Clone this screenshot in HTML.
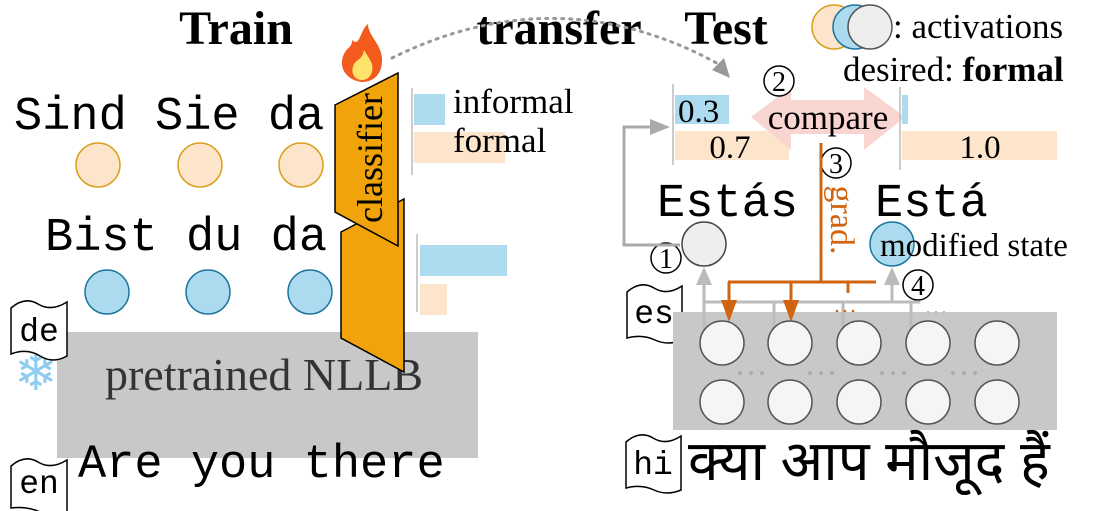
<!DOCTYPE html>
<html><head><meta charset="utf-8"><style>
body{margin:0;background:#fff}
svg{display:block}
.mono{font-family:"Liberation Mono",monospace}
.serif{font-family:"Liberation Serif",serif}
</style></head><body>
<svg width="1105" height="511" viewBox="0 0 1105 511" xmlns="http://www.w3.org/2000/svg">
<!-- titles -->
<text x="236" y="44" class="serif" font-size="48" font-weight="bold" text-anchor="middle">Train</text>
<text x="559" y="44" class="serif" font-size="48" font-weight="bold" text-anchor="middle">transfer</text>
<text x="726" y="44" class="serif" font-size="48" font-weight="bold" text-anchor="middle">Test</text>
<!-- dotted arc -->
<path d="M392,58 Q560,-25 722,66" fill="none" stroke="#999" stroke-width="3" stroke-dasharray="2,6" stroke-linecap="round"/>
<polygon points="730,78 712,70 724,58" fill="#999"/>
<!-- flame -->
<path d="M362,82 C345,80 338,66 344,54 C348,46 352,48 352,40 C360,48 360,30 368,24 C368,36 382,44 382,60 C382,74 374,82 362,82 Z" fill="#f25a1e"/>
<path d="M362,80 C354,80 350,72 354,64 C358,58 362,60 364,50 C370,60 374,64 372,72 C370,78 366,80 362,80Z" fill="#fde36a"/>
<!-- left sentences -->
<text x="14" y="129" class="mono" font-size="47">Sind Sie da</text>
<g fill="#fde5cc" stroke="#d9a020" stroke-width="1.5">
<circle cx="98" cy="165" r="22"/><circle cx="200" cy="165" r="22"/><circle cx="301" cy="165" r="22"/>
</g>
<text x="45" y="250" class="mono" font-size="47">Bist du da</text>
<g fill="#acdaee" stroke="#1f77a0" stroke-width="1.5">
<circle cx="107" cy="292" r="22"/><circle cx="208" cy="292" r="22"/><circle cx="310" cy="292" r="22"/>
</g>
<!-- gray block left -->
<rect x="57" y="332" width="421" height="126" fill="#c8c8c8"/>
<text x="264" y="390" class="serif" font-size="46" fill="#333" text-anchor="middle">pretrained NLLB</text>
<text x="36" y="390" font-size="52" fill="#8ecdf0" text-anchor="middle" font-family="DejaVu Sans,sans-serif">❄</text>
<!-- classifier -->
<polygon points="341,232 404,199 404,372 341,338" fill="#f0a30a" stroke="#000" stroke-width="1.5"/>
<polygon points="335,105 398,73 398,246 335,212" fill="#f0a30a" stroke="#000" stroke-width="1.5"/>
<text transform="translate(382,158) rotate(-90)" class="serif" font-size="36" text-anchor="middle">classifier</text>
<!-- bars left -->
<line x1="412" y1="88" x2="412" y2="175" stroke="#bbb" stroke-width="1.5"/>
<rect x="414" y="94" width="31" height="31" fill="#acdaee"/>
<rect x="414" y="132" width="91" height="31" fill="#fde5cc"/>
<text x="453" y="113" class="serif" font-size="35">informal</text>
<text x="453" y="152" class="serif" font-size="35">formal</text>
<line x1="417" y1="234" x2="417" y2="312" stroke="#bbb" stroke-width="1.5"/>
<rect x="420" y="245" width="87" height="31" fill="#acdaee"/>
<rect x="420" y="284" width="27" height="31" fill="#fde5cc"/>
<!-- flags -->
<g fill="#fff" stroke="#000" stroke-width="1.5">
<path d="M11,308 Q25,296 38,304 T67,302 L67,356 Q53,364 40,356 T11,354 Z"/>
<path d="M11,466 Q25,454 38,462 T67,460 L67,512 Q53,518 40,512 T11,508 Z"/>
<path d="M627,292 Q641,280 654,288 T682,286 L682,340 Q668,346 655,340 T627,338 Z"/>
<path d="M626,442 Q640,430 653,438 T681,436 L681,490 Q667,496 654,490 T626,488 Z"/>
</g>
<text x="39" y="341" class="mono" font-size="33" text-anchor="middle">de</text>
<text x="39" y="493" class="mono" font-size="33" text-anchor="middle">en</text>
<text x="654" y="323" class="mono" font-size="33" text-anchor="middle">es</text>
<text x="653" y="474" class="mono" font-size="33" text-anchor="middle">hi</text>
<text x="78" y="477" class="mono" font-size="47">Are you there</text>
<!-- legend -->
<circle cx="834" cy="27" r="22" fill="#fde5cc" stroke="#d9a020" stroke-width="1.5"/>
<circle cx="855" cy="27" r="22" fill="#acdaee" stroke="#1f77a0" stroke-width="1.5"/>
<circle cx="870" cy="27" r="22" fill="#eee" stroke="#555" stroke-width="1.5"/>
<text x="893" y="38" class="serif" font-size="35">: activations</text>
<text x="843" y="81" class="serif" font-size="35">desired: <tspan font-weight="bold">formal</tspan></text>
<!-- test bars -->
<line x1="673" y1="84" x2="673" y2="165" stroke="#bbb" stroke-width="1.5"/>
<rect x="675" y="95" width="54" height="29" fill="#acdaee"/>
<text x="678" y="122" class="serif" font-size="33">0.3</text>
<rect x="675" y="131" width="114" height="29" fill="#fde5cc"/>
<polygon points="751,117 791,87 791,100 864,100 864,87 905,117 864,150 864,134 791,134 791,150" fill="#f8d5d0"/>
<text x="730" y="158" class="serif" font-size="33" text-anchor="middle">0.7</text>
<text x="828" y="129" class="serif" font-size="35" text-anchor="middle">compare</text>
<line x1="900" y1="87" x2="900" y2="170" stroke="#bbb" stroke-width="1.5"/>
<rect x="902" y="95" width="6" height="29" fill="#acdaee"/>
<rect x="902" y="131" width="155" height="29" fill="#fde5cc"/>
<text x="980" y="158" class="serif" font-size="33" text-anchor="middle">1.0</text>
<!-- numbered circles -->
<g fill="#fff" stroke="#000" stroke-width="1.5">
<circle cx="779" cy="81" r="15"/><circle cx="836" cy="163" r="15"/><circle cx="666" cy="258" r="15"/><circle cx="918" cy="285" r="15"/>
</g>
<g class="serif" font-size="28" text-anchor="middle">
<text x="779" y="91">2</text><text x="836" y="173">3</text><text x="666" y="268">1</text><text x="918" y="295">4</text>
</g>
<!-- grad line -->
<line x1="821" y1="143" x2="821" y2="282" stroke="#d06410" stroke-width="3"/>
<text transform="translate(831,220) rotate(90)" class="serif" font-size="34" fill="#d06410" text-anchor="middle">grad.</text>
<!-- texts -->
<text x="657" y="216" class="mono" font-size="47">Estás</text>
<text x="875" y="216" class="mono" font-size="47">Está</text>
<!-- gray loop -->
<path d="M680,245 L624,245 L624,127 L652,127" fill="none" stroke="#aaa" stroke-width="3"/>
<polygon points="670,127 650,119 650,135" fill="#aaa"/>
<circle cx="704" cy="244" r="22" fill="#eee" stroke="#444" stroke-width="1.5"/>
<circle cx="892" cy="244" r="22" fill="#acdaee" stroke="#1f77a0" stroke-width="1.5"/>
<text x="880" y="256" class="serif" font-size="33">modified state</text>
<!-- gray rect right -->
<rect x="673" y="312" width="384" height="118" fill="#c8c8c8"/>
<!-- gray connectors -->
<g stroke="#bbb" stroke-width="3" fill="none">
<line x1="704" y1="302" x2="920" y2="302"/>
<line x1="704" y1="282" x2="704" y2="330"/>
<line x1="774" y1="302" x2="774" y2="330"/>
<line x1="843" y1="302" x2="843" y2="330"/>
<line x1="911" y1="302" x2="911" y2="330"/>
<line x1="892" y1="282" x2="892" y2="302"/>
</g>
<polygon points="704,267 696,285 712,285" fill="#bbb"/>
<polygon points="892,267 884,285 900,285" fill="#bbb"/>
<!-- orange tree -->
<g stroke="#d06410" stroke-width="3" fill="none">
<line x1="728" y1="282" x2="876" y2="282"/>
<line x1="729" y1="282" x2="729" y2="302"/>
<line x1="791" y1="282" x2="791" y2="302"/>
<line x1="848" y1="282" x2="848" y2="293"/>
</g>
<polygon points="729,322 721,300 737,300" fill="#d06410"/>
<polygon points="791,322 783,300 799,300" fill="#d06410"/>
<g fill="#d06410"><circle cx="837" cy="311" r="1.3"/><circle cx="845" cy="311" r="1.3"/><circle cx="853" cy="311" r="1.3"/></g>
<g fill="#bbb"><circle cx="928" cy="312" r="1.3"/><circle cx="936" cy="312" r="1.3"/><circle cx="944" cy="312" r="1.3"/></g>
<!-- neuron grid -->
<g fill="#f5f5f5" stroke="#555" stroke-width="1.5">
<circle cx="722" cy="343" r="22"/><circle cx="790" cy="343" r="22"/><circle cx="859" cy="343" r="22"/><circle cx="928" cy="343" r="22"/><circle cx="997" cy="343" r="22"/>
<circle cx="722" cy="402" r="22"/><circle cx="790" cy="402" r="22"/><circle cx="859" cy="402" r="22"/><circle cx="928" cy="402" r="22"/><circle cx="997" cy="402" r="22"/>
</g>
<g fill="#aaa">
<circle cx="740" cy="373" r="2"/><circle cx="751" cy="373" r="2"/><circle cx="762" cy="373" r="2"/>
<circle cx="810" cy="373" r="2"/><circle cx="821" cy="373" r="2"/><circle cx="832" cy="373" r="2"/>
<circle cx="882" cy="373" r="2"/><circle cx="893" cy="373" r="2"/><circle cx="904" cy="373" r="2"/>
<circle cx="953" cy="373" r="2"/><circle cx="964" cy="373" r="2"/><circle cx="975" cy="373" r="2"/>
</g>
<text x="688" y="480" font-family="Liberation Sans, 'DejaVu Sans', sans-serif" font-size="56">क्या आप मौजूद हैं</text>
</svg>
</body></html>
